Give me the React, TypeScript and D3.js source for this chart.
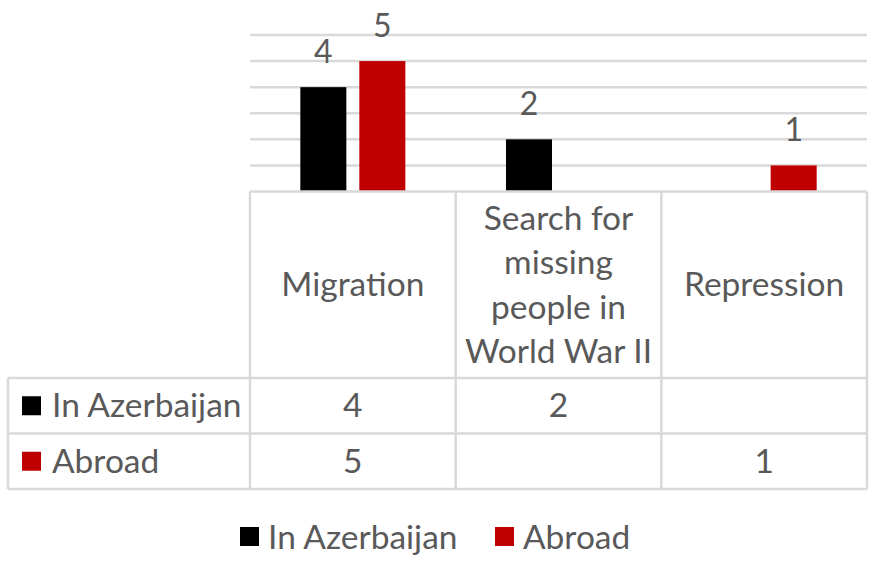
import React, { useEffect, useRef } from 'react';
import * as d3 from 'd3';

const categories = ['Migration', 'Search for missing people in World War II', 'Repression'];
const categoryLines = [['Migration'], ['Search for', 'missing', 'people in', 'World War II'], ['Repression']];
const seriesNames = ['In Azerbaijan', 'Abroad'];
const inAzerbaijan = [4, 2, null];
const abroad = [5, null, 1];
const seriesColors = ['#000000', '#c00000'];
const yTicks = [1, 2, 3, 4, 5, 6];

const W = 872, H = 563;
const FONT = 'Lato, "Noto Sans", sans-serif';
const FS = 33.5;
const TEXT = '#595959';
const GRID = '#d9d9d9';

const App = () => {
  const svgRef = useRef<SVGSVGElement>(null);

  useEffect(() => {
    const svg = d3.select(svgRef.current);
    svg.selectAll('*').remove();

    const plotLeft = 250, plotRight = 867;
    const baseY = 191.5;
    const headerBottom = 378, row1Bottom = 433.5, row2Bottom = 489;
    const tableLeft = 8;
    const values = [inAzerbaijan, abroad];

    const x = d3.scaleBand().domain(categories).range([plotLeft, plotRight]);
    const xs = d3.scaleBand().domain(seriesNames).range([-59, 59]).paddingInner(0.22).paddingOuter(0.11);
    const y = d3.scaleLinear().domain([0, 6]).range([baseY, 35]);

    // gridlines
    svg.append('g').selectAll('line').data(yTicks).enter().append('line')
      .attr('x1', plotLeft).attr('x2', plotRight)
      .attr('y1', d => y(d)).attr('y2', d => y(d))
      .attr('stroke', GRID).attr('stroke-width', 2.5);

    // bars + labels
    seriesNames.forEach((s, si) => {
      const data = categories.map((c, i) => ({ c, v: values[si][i] })).filter(d => d.v != null);
      const g = svg.append('g');
      g.selectAll('rect').data(data).enter().append('rect')
        .attr('x', d => x(d.c)! + x.bandwidth() / 2 + xs(s)!)
        .attr('width', xs.bandwidth())
        .attr('y', d => y(d.v as number))
        .attr('height', d => baseY - y(d.v as number))
        .attr('fill', seriesColors[si]);
      g.selectAll('text').data(data).enter().append('text')
        .attr('x', d => x(d.c)! + x.bandwidth() / 2 + xs(s)! + xs.bandwidth() / 2)
        .attr('y', d => y(d.v as number) - 24)
        .attr('text-anchor', 'middle')
        .attr('font-family', FONT).attr('font-size', 32).attr('fill', TEXT)
        .text(d => String(d.v));
    });

    // data table lines
    const t = svg.append('g').attr('stroke', GRID).attr('stroke-width', 2.5).attr('fill', 'none');
    t.append('line').attr('x1', plotLeft).attr('x2', plotRight).attr('y1', baseY).attr('y2', baseY);
    [headerBottom, row1Bottom, row2Bottom].forEach(yy =>
      t.append('line').attr('x1', tableLeft).attr('x2', plotRight).attr('y1', yy).attr('y2', yy));
    t.append('line').attr('x1', tableLeft).attr('x2', tableLeft).attr('y1', headerBottom).attr('y2', row2Bottom);
    [...categories.map(c => x(c)!), plotRight].forEach(xx =>
      t.append('line').attr('x1', xx).attr('x2', xx).attr('y1', baseY).attr('y2', row2Bottom));

    // header labels
    const lineH = 44.5;
    categories.forEach((c, i) => {
      const lines = categoryLines[i];
      const cy = (baseY + headerBottom) / 2;
      const txt = svg.append('text')
        .attr('text-anchor', 'middle')
        .attr('font-family', FONT).attr('font-size', FS).attr('fill', TEXT);
      lines.forEach((ln, li) => {
        txt.append('tspan')
          .attr('x', x(c)! + x.bandwidth() / 2)
          .attr('y', cy + (li - (lines.length - 1) / 2) * lineH)
          .attr('dy', '0.35em')
          .text(ln);
      });
    });

    // rows
    const rowTops = [headerBottom, row1Bottom];
    const rowBottoms = [row1Bottom, row2Bottom];
    seriesNames.forEach((s, si) => {
      const cy = (rowTops[si] + rowBottoms[si]) / 2;
      svg.append('rect').attr('x', 22).attr('y', cy - 9.5).attr('width', 19).attr('height', 19)
        .attr('fill', seriesColors[si]);
      svg.append('text').attr('x', 52).attr('y', cy).attr('dy', '0.35em')
        .attr('font-family', FONT).attr('font-size', FS).attr('fill', TEXT).text(s);
      categories.forEach((c, i) => {
        const v = values[si][i];
        if (v == null) return;
        svg.append('text').attr('x', x(c)! + x.bandwidth() / 2).attr('y', cy).attr('dy', '0.35em')
          .attr('text-anchor', 'middle')
          .attr('font-family', FONT).attr('font-size', FS).attr('fill', TEXT).text(String(v));
      });
    });

    // legend
    const legendX = [240, 495];
    seriesNames.forEach((s, si) => {
      svg.append('rect').attr('x', legendX[si]).attr('y', 527).attr('width', 19).attr('height', 19)
        .attr('fill', seriesColors[si]);
      svg.append('text').attr('x', legendX[si] + 28).attr('y', 537).attr('dy', '0.35em')
        .attr('font-family', FONT).attr('font-size', FS).attr('fill', TEXT).text(s);
    });
  }, []);

  return (
    <svg ref={svgRef} width={W} height={H}
      style={{ position: 'absolute', left: 0, top: 0, background: '#fff' }} />
  );
};

export default App;
